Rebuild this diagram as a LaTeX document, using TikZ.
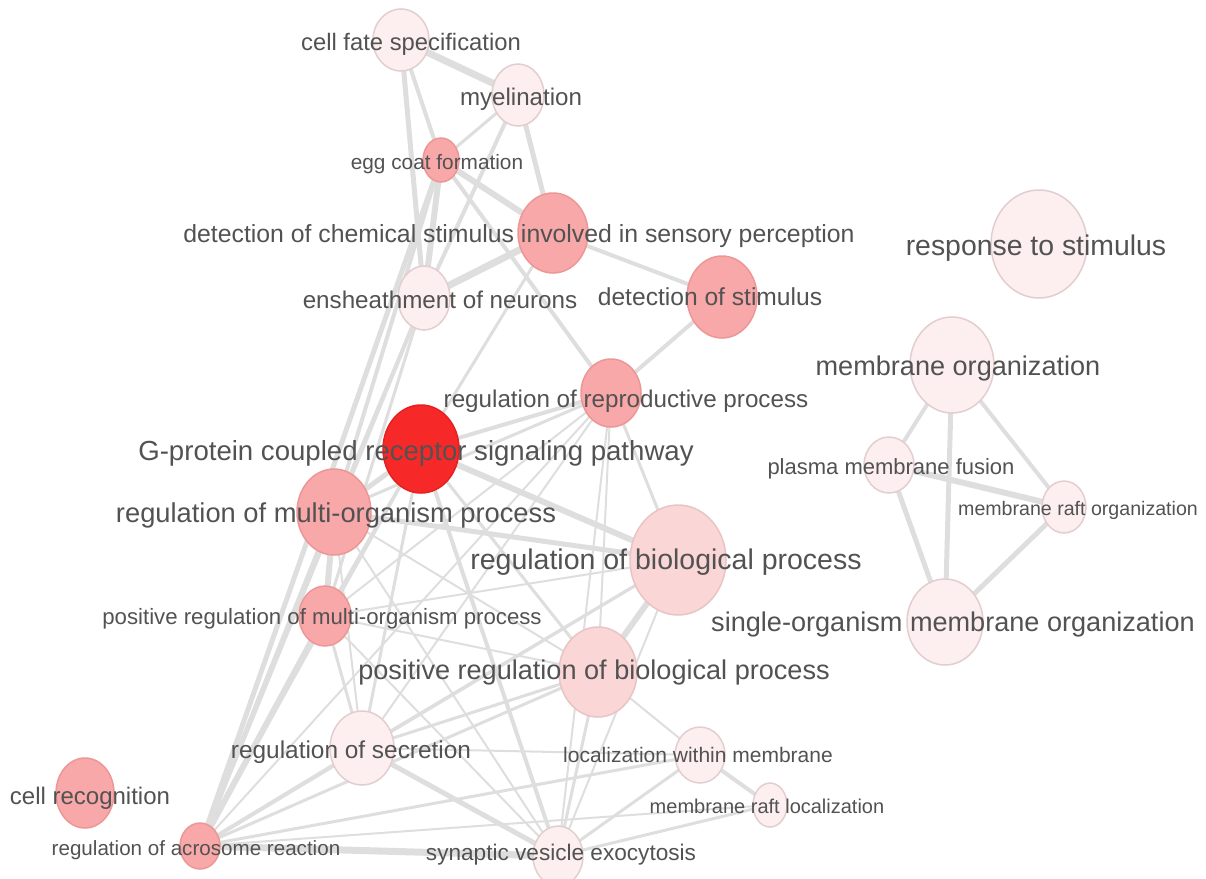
\documentclass[tikz,border=0pt]{standalone}
\usepackage{fontspec}
\setmainfont{Liberation Sans}
\usetikzlibrary{shapes.geometric}

\pgfdeclarelayer{edges}
\pgfdeclarelayer{labels}
\pgfsetlayers{edges,main,labels}

% node shades, from the most to the least enriched term
\definecolor{hotfill}{RGB}{247,40,40}
\definecolor{hotline}{RGB}{228,32,32}
\definecolor{warmfill}{RGB}{248,168,168}
\definecolor{warmline}{RGB}{236,150,150}
\definecolor{palefill}{RGB}{251,214,214}
\definecolor{paleline}{RGB}{232,196,196}
\definecolor{coolfill}{RGB}{253,239,239}
\definecolor{coolline}{RGB}{226,206,206}
\definecolor{edgegray}{RGB}{222,222,222}
\definecolor{labelgray}{RGB}{82,82,82}

\tikzset{
  term/.style={ellipse, inner sep=0pt, line width=1.5pt},
  hot/.style={term, fill=hotfill, draw=hotline},
  warm/.style={term, fill=warmfill, draw=warmline},
  pale/.style={term, fill=palefill, draw=paleline},
  cool/.style={term, fill=coolfill, draw=coolline},
  sz/.style n args={2}{minimum width=#1pt, minimum height=#2pt},
  lab/.style={anchor=mid, text=labelgray, inner sep=0pt,
    font=\fontsize{#1pt}{#1pt}\selectfont, yshift=-0.25*#1pt},
  link/.style={draw=edgegray, line cap=round},
}

\begin{document}
\begin{tikzpicture}[x=1pt, y=-1pt]
\useasboundingbox (0,0) rectangle (1206,878);

% ---- term nodes ----
\node[cool, sz={56}{62}] (cfs) at (401,40) {};
\node[cool, sz={52}{62}] (mye) at (518,95) {};
\node[warm, sz={36}{44}] (egg) at (441,160) {};
\node[warm, sz={70}{80}] (dcs) at (553,233) {};
\node[cool, sz={52}{64}] (ens) at (424,298) {};
\node[warm, sz={70}{82}] (dst) at (722,297) {};
\node[cool, sz={96}{108}] (rts) at (1039,244) {};
\node[cool, sz={84}{96}] (mo) at (952,365) {};
\node[warm, sz={60}{68}] (rrp) at (611,393) {};
\node[hot, sz={76}{88}] (gpc) at (421,449) {};
\node[cool, sz={50}{56}] (pmf) at (889,465) {};
\node[cool, sz={44}{52}] (mro) at (1064,507) {};
\node[warm, sz={74}{86}] (rmo) at (334,512) {};
\node[pale, sz={96}{110}] (rbp) at (678,560) {};
\node[cool, sz={76}{86}] (som) at (945,622) {};
\node[warm, sz={52}{60}] (prm) at (325,616) {};
\node[pale, sz={78}{90}] (pbp) at (598,672) {};
\node[cool, sz={64}{74}] (rsec) at (362,748) {};
\node[cool, sz={50}{56}] (lwm) at (700,755) {};
\node[warm, sz={58}{70}] (crec) at (85,793) {};
\node[cool, sz={34}{44}] (mrl) at (770,805) {};
\node[warm, sz={40}{46}] (rar) at (200,846) {};
\node[cool, sz={50}{60}] (sve) at (558,856) {};

% ---- similarity links, drawn under the nodes ----
\begin{pgfonlayer}{edges}
\foreach \a/\b/\w in {
  cfs/mye/7, cfs/egg/4, cfs/ens/5, mye/egg/3, mye/dcs/5, mye/ens/4,
  egg/dcs/6, egg/ens/6, egg/rrp/4, egg/rar/5, egg/rmo/4,
  dcs/ens/7, dcs/dst/4, dcs/gpc/3, dst/rrp/4,
  ens/rar/4, ens/rmo/3, ens/prm/3,
  gpc/rrp/4, gpc/rmo/5, gpc/rbp/6, gpc/pbp/3, gpc/rsec/3, gpc/sve/4,
  gpc/prm/3, gpc/rar/3,
  rmo/rrp/3, rmo/rbp/5, rmo/pbp/2, rmo/prm/6, rmo/rsec/2, rmo/sve/2, rmo/rar/5,
  prm/rrp/2, prm/rbp/2, prm/pbp/2, prm/rsec/3, prm/sve/2, prm/rar/6,
  rsec/rrp/2, rsec/rbp/3, rsec/pbp/3, rsec/sve/5, rsec/rar/4, rsec/lwm/2,
  rar/rrp/2, rar/rbp/3, rar/pbp/3, rar/sve/7, rar/lwm/3, rar/mrl/2,
  rrp/rbp/3, rrp/pbp/2, rrp/sve/2,
  rbp/pbp/6, rbp/sve/2, pbp/sve/3, pbp/lwm/2,
  sve/lwm/3, sve/mrl/3, lwm/mrl/4,
  mo/pmf/4, mo/som/5, mo/mro/4, pmf/mro/6, pmf/som/5, mro/som/5}
  \draw[link, line width=\w pt] (\a.center) -- (\b.center);
\end{pgfonlayer}

% ---- term names ----
\begin{pgfonlayer}{labels}
\node[lab=23.8] (l-cfs) at (411,42) {cell fate specification};
\node[lab=24.1] (l-mye) at (521,97) {myelination};
\node[lab=20.8] (l-egg) at (437,162) {egg coat formation};
\node[lab=24.8] (l-dcs) at (519,234) {detection of chemical stimulus involved in sensory perception};
\node[lab=24.2] (l-ens) at (440,300) {ensheathment of neurons};
\node[lab=24.6] (l-dst) at (710,297) {detection of stimulus};
\node[lab=28.4] (l-rts) at (1036,246) {response to stimulus};
\node[lab=27.1] (l-mo) at (958,366) {membrane organization};
\node[lab=24.2] (l-rrp) at (626,399) {regulation of reproductive process};
\node[lab=27.6] (l-gpc) at (416,451) {G-protein coupled receptor signaling pathway};
\node[lab=22.0] (l-pmf) at (891,466) {plasma membrane fusion};
\node[lab=19.6] (l-mro) at (1078,508) {membrane raft organization};
\node[lab=27.3] (l-rmo) at (336,513) {regulation of multi-organism process};
\node[lab=28.5] (l-rbp) at (666,560) {regulation of biological process};
\node[lab=27.1] (l-som) at (953,622) {single-organism membrane organization};
\node[lab=22.2] (l-prm) at (322,616) {positive regulation of multi-organism process};
\node[lab=27.1] (l-pbp) at (594,670) {positive regulation of biological process};
\node[lab=24.4] (l-rsec) at (351,750) {regulation of secretion};
\node[lab=21.0] (l-lwm) at (698,755) {localization within membrane};
\node[lab=24.0] (l-crec) at (90,796) {cell recognition};
\node[lab=20.0] (l-mrl) at (767,806) {membrane raft localization};
\node[lab=20.6] (l-rar) at (196,848) {regulation of acrosome reaction};
\node[lab=22.6] (l-sve) at (561,852) {synaptic vesicle exocytosis};
\end{pgfonlayer}
\end{tikzpicture}
\end{document}
